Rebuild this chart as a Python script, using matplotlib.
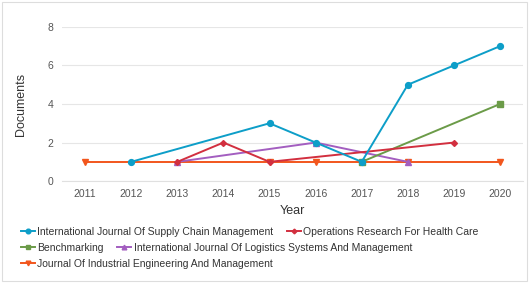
import matplotlib
matplotlib.use("Agg")
import matplotlib.pyplot as plt
from matplotlib.patches import Rectangle

plt.rcParams['font.family'] = ['Liberation Sans', 'DejaVu Sans']

years_ijscm = [2012, 2015, 2016, 2017, 2018, 2019, 2020]
vals_ijscm = [1, 3, 2, 1, 5, 6, 7]
years_orhc = [2013, 2014, 2015, 2019]
vals_orhc = [1, 2, 1, 2]
years_bench = [2017, 2020]
vals_bench = [1, 4]
years_ijlsm = [2013, 2016, 2018]
vals_ijlsm = [1, 2, 1]
years_jiem = [2011, 2015, 2016, 2018, 2020]
vals_jiem = [1, 1, 1, 1, 1]

names = ["International Journal Of Supply Chain Management",
         "Operations Research For Health Care",
         "Benchmarking",
         "International Journal Of Logistics Systems And Management",
         "Journal Of Industrial Engineering And Management"]
colors = ["#0d9ec8", "#d22f3f", "#6b9b48", "#a35ec0", "#f2561d"]
markers = ["o", "D", "s", "^", "v"]
msizes = [4.2, 3.0, 4.2, 4.2, 4.2]

xticks = list(range(2011, 2021))
yticks = [0, 2, 4, 6, 8]

fig = plt.figure(figsize=(5.30, 2.83), dpi=100)
fig.patches.append(Rectangle((0.004, 0.007), 0.99, 0.985, transform=fig.transFigure,
                             fill=False, edgecolor="#dddddd", linewidth=0.8))
ax = fig.add_axes([0.117, 0.360, 0.870, 0.545])

series = [(years_ijscm, vals_ijscm), (years_orhc, vals_orhc), (years_bench, vals_bench),
          (years_ijlsm, vals_ijlsm), (years_jiem, vals_jiem)]
order = [4, 3, 2, 1, 0]
hd = {}
for i in order:
    x, y = series[i]
    h, = ax.plot(x, y, color=colors[i], marker=markers[i], markersize=msizes[i],
                 linewidth=1.4, label=names[i], zorder=3)
    hd[i] = h

ax.set_xlim(2010.5, 2020.5)
ax.set_ylim(0, 8)
ax.set_xticks(xticks)
ax.set_xticklabels([str(t) for t in xticks])
ax.set_yticks(yticks)
ax.grid(axis='y', color="#e6e6e6", linewidth=0.8)
ax.set_axisbelow(True)
for s in ["top", "right", "left"]:
    ax.spines[s].set_visible(False)
ax.spines["bottom"].set_color("#e0e0e0")
ax.tick_params(axis='both', length=0, labelsize=7.5, labelcolor="#555555", pad=6)
ax.set_ylabel("Documents", fontsize=9, color="#333333", labelpad=15)
ax.set_xlabel("Year", fontsize=9, color="#333333", labelpad=4)

rows = [([0, 1], 0.180), ([2, 3], 0.124), ([4], 0.068)]
for idx, yy in rows:
    fig.legend([hd[i] for i in idx], [names[i] for i in idx], loc='center left',
               bbox_to_anchor=(0.040, yy), ncol=len(idx), frameon=False,
               fontsize=7.5, handlelength=1.3, handletextpad=0.25,
               columnspacing=1.3, borderpad=0, borderaxespad=0,
               labelcolor="#333333", markerscale=0.8)

fig.savefig("out.png", dpi=100)
